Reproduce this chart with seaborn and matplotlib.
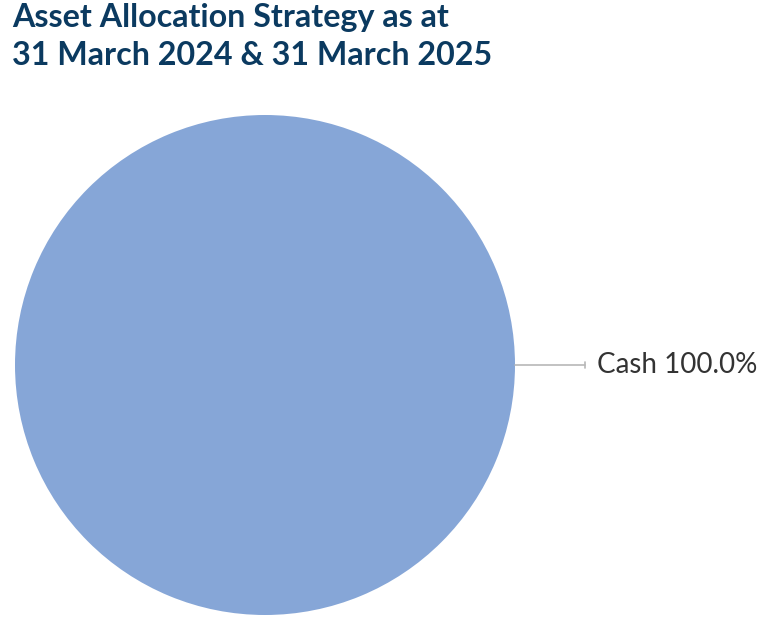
import matplotlib

matplotlib.use("Agg")
import matplotlib.pyplot as plt
import seaborn as sns

# chart data
categories = ["Cash"]
shares = [100.0]
slice_colors = ["#86a6d7"]
title_lines = ["Asset Allocation Strategy as at", "31 March 2024 & 31 March 2025"]

sns.set_theme(style="white")
plt.rcParams["font.family"] = ["Lato", "DejaVu Sans"]

W, H = 779, 618
fig = plt.figure(figsize=(W / 100, H / 100), dpi=100)
fig.patch.set_facecolor("white")

# axes sized to the pie disc: centre (265, 365), radius 250 px
cx, cy, r = 265, 365, 250
ax = fig.add_axes([(cx - r) / W, (H - cy - r) / H, 2 * r / W, 2 * r / H])
wedges, _ = ax.pie(shares, colors=slice_colors, radius=1, startangle=0,
                   wedgeprops={"linewidth": 0})
ax.set_xlim(-1, 1)
ax.set_ylim(-1, 1)
ax.set_aspect("equal")
ax.axis("off")

for w, cat, val in zip(wedges, categories, shares):
    ax.annotate(
        "",
        xy=((585 - cx) / r, 0), xytext=(1.0, 0),
        arrowprops=dict(arrowstyle="-[, widthB=0.18, lengthB=0",
                        color="#b8b8b8", lw=1.2, shrinkA=0, shrinkB=0),
        annotation_clip=False,
    )
    ax.text((597 - cx) / r, 0, f"{cat} {val:.1f}%", ha="left", va="center",
            fontsize=20, color="#333333", fontweight="normal", clip_on=False)

# title lines placed on their baselines
for line, base in zip(title_lines, [27, 65]):
    fig.text(12 / W, 1 - base / H, line, ha="left", va="baseline",
             fontsize=23.2, fontweight="bold", color="#0b3a60")

fig.savefig("out.png", dpi=100, facecolor="white")
